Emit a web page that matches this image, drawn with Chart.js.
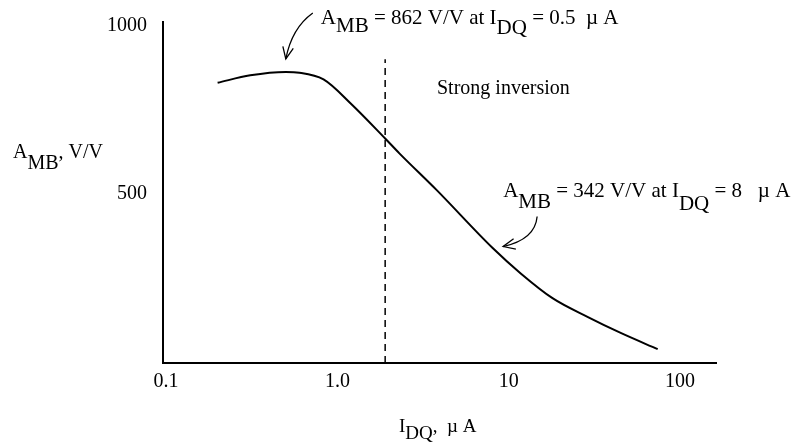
<!DOCTYPE html>
<html>
<head>
<meta charset="utf-8">
<script src="https://cdn.jsdelivr.net/npm/chart.js@4.4.0/dist/chart.umd.min.js"></script>
<style>
  html, body { margin: 0; padding: 0; background: #fff; }
</style>
</head>
<body>
<canvas id="chart" width="800" height="443"></canvas>
<script>
// values (I_DQ in uA, A_MB in V/V)
const idq = [0.2, 0.31, 0.5, 0.6, 0.83, 1.2, 1.9, 2.3, 3.8, 8, 11.7, 18, 29, 45, 74];
const amb = [830, 852, 862, 860, 840, 768, 665, 621, 512, 342, 266, 192, 136, 89, 41];

const boundaryX = 1.9;      // weak / strong inversion boundary
const boundaryTop = 900;

const xTickValues = [0.1, 1, 10, 100];
const xTickLabels = ['0.1', '1.0', '10', '100'];
const yTickValues = [500, 1000];

const peakPoint = { x: 0.5, y: 862 };
const markPoint = { x: 8, y: 342 };

const SERIF = '"Liberation Serif", "Times New Roman", serif';

function drawRich(ctx, x, y, parts) {
    let cx = x;
    parts.forEach(p => {
        ctx.fillText(p[0], cx, y + p[1]);
        cx += ctx.measureText(p[0]).width;
    });
}

function arrow(ctx, x0, y0, cx, cy, x1, y1) {
    ctx.beginPath();
    ctx.moveTo(x0, y0);
    ctx.quadraticCurveTo(cx, cy, x1, y1);
    ctx.stroke();
    const a = Math.atan2(y1 - cy, x1 - cx);
    const len = 13, spread = 0.42;
    ctx.beginPath();
    ctx.moveTo(x1 - len * Math.cos(a - spread), y1 - len * Math.sin(a - spread));
    ctx.lineTo(x1, y1);
    ctx.lineTo(x1 - len * Math.cos(a + spread), y1 - len * Math.sin(a + spread));
    ctx.stroke();
}

const labels = {
    id: 'labels',
    afterDraw(chart) {
        const ctx = chart.ctx;
        const xs = chart.scales.x, ys = chart.scales.y;
        ctx.save();
        ctx.fillStyle = '#000';
        ctx.strokeStyle = '#000';
        ctx.lineWidth = 1.3;
        ctx.textBaseline = 'alphabetic';
        ctx.textAlign = 'left';
        ctx.font = '21px ' + SERIF;

        // peak annotation
        const px = xs.getPixelForValue(peakPoint.x);
        const py = ys.getPixelForValue(peakPoint.y);
        drawRich(ctx, px + 35, 24, [['A', 0], ['MB', 8], [' = 862 V/V at I', 0], ['DQ', 10], [' = 0.5  \u00b5 A', 0]]);
        arrow(ctx, px + 27, 13, px + 6, 28, px, py - 13);

        // 8 uA annotation
        const mx = xs.getPixelForValue(markPoint.x);
        const my = ys.getPixelForValue(markPoint.y);
        drawRich(ctx, mx + 11, 197, [['A', 0], ['MB', 11], [' = 342 V/V at I', 0], ['DQ', 13], [' = 8   \u00b5 A', 0]]);
        arrow(ctx, mx + 45, my - 31, mx + 43, my - 8, mx + 11, my - 1);

        // region label
        ctx.font = '20px ' + SERIF;
        ctx.fillText('Strong inversion', 437, 94);

        // axis titles
        ctx.font = '20px ' + SERIF;
        drawRich(ctx, 13, 158, [['A', 0], ['MB', 11], [', V/V', 0]]);
        ctx.font = '19px ' + SERIF;
        drawRich(ctx, 399, 432, [['I', 0], ['DQ', 7], [',  \u00b5 A', 0]]);
        ctx.restore();
    }
};

const curve = idq.map((v, i) => ({ x: v, y: amb[i] }));

new Chart(document.getElementById('chart'), {
    type: 'line',
    data: {
        datasets: [{
            data: curve,
            borderColor: '#000',
            borderWidth: 2,
            pointRadius: 0,
            cubicInterpolationMode: 'monotone',
            fill: false
        }, {
            data: [{ x: boundaryX, y: 0 }, { x: boundaryX, y: boundaryTop }],
            borderColor: '#000',
            borderWidth: 1.5,
            borderDash: [7, 5],
            pointRadius: 0,
            tension: 0,
            fill: false
        }]
    },
    options: {
        responsive: false,
        animation: false,
        layout: { padding: { top: 22, right: 84, left: 0, bottom: 0 } },
        plugins: { legend: { display: false }, tooltip: { enabled: false } },
        scales: {
            x: {
                type: 'logarithmic',
                min: 0.096,
                max: 162,
                border: { display: true, color: '#000', width: 2 },
                grid: { display: false, drawTicks: false },
                ticks: {
                    color: '#000',
                    font: { family: SERIF, size: 20 },
                    padding: 7,
                    autoSkip: false,
                    maxRotation: 0,
                    callback: (v, i) => xTickLabels[i]
                },
                afterBuildTicks: s => { s.ticks = xTickValues.map(v => ({ value: v })); },
                afterFit: s => { s.height = 80; s.paddingLeft = 0; s.paddingRight = 0; }
            },
            y: {
                type: 'linear',
                min: 0,
                max: 1010,
                border: { display: true, color: '#000', width: 2 },
                grid: { display: false, drawTicks: false },
                ticks: {
                    color: '#000',
                    font: { family: SERIF, size: 20 },
                    padding: 16,
                    callback: v => String(v)
                },
                afterBuildTicks: s => { s.ticks = yTickValues.map(v => ({ value: v })); },
                afterFit: s => { s.width = 163; s.paddingTop = 0; s.paddingBottom = 0; }
            }
        }
    },
    plugins: [labels]
});
</script>
</body>
</html>
